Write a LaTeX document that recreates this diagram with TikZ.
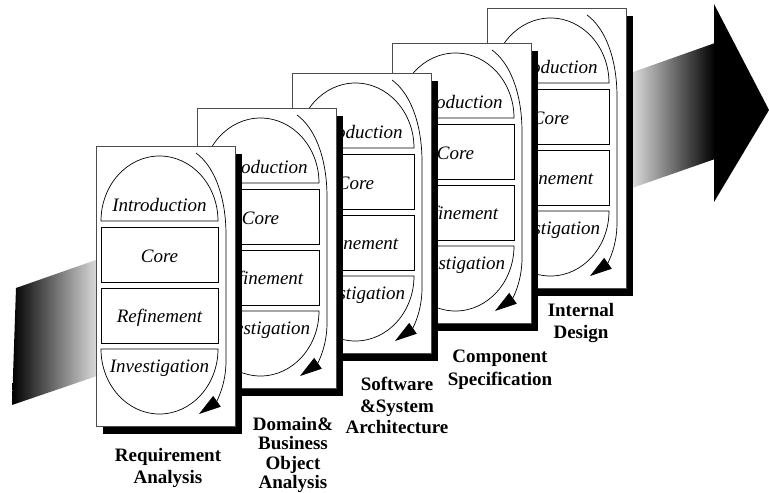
\documentclass[tikz,border=0pt]{standalone}
\usepackage{fontspec}
\setmainfont{Liberation Serif}
\usetikzlibrary{arrows.meta}

\tikzset{
  panel/.style={draw=black, line width=0.7pt, fill=white},
  cardface/.style={draw=black!70, line width=0.7pt, fill=white},
  cardshadow/.style={fill=black},
  flow/.style={draw=black, line width=0.7pt, -{Triangle[length=22pt,width=13pt]}},
  paneltext/.style={font=\fontsize{19}{22}\selectfont\itshape, anchor=base, inner sep=0pt},
  stagelabel/.style={font=\fontsize{19}{22}\selectfont\bfseries, anchor=north, align=center, inner sep=0pt},
}

% one process stage card: #1 id, #2 left, #3 top
\newcommand\stagecard[3]{%
\begin{scope}[shift={(#2,#3)}]
  \fill[cardshadow] (7,8) rectangle (146,288);
  \draw[cardface] (0,0) rectangle (139,280);
  \draw[panel] (5,75) arc[start angle=180, end angle=360, x radius=58.5, y radius=65] -- cycle;
  \draw[panel] (5,81) rectangle (122,136);
  \draw[panel] (5,142) rectangle (122,197);
  \draw[panel] (5,203) arc[start angle=180, end angle=0, x radius=58.5, y radius=65] -- cycle;
  \node[paneltext] (#1-intro) at (63.5,65) {Introduction};
  \node[paneltext] (#1-core) at (63.5,116) {Core};
  \node[paneltext] (#1-refine) at (63.5,176) {Refinement};
  \node[paneltext] (#1-invest) at (63.5,226) {Investigation};
  \draw[flow] (100,7) .. controls (118,20) and (130,50) .. (130,89)
     -- (130,215) .. controls (130,240) and (120,256) .. (103,268);
\end{scope}}

\begin{document}
\begin{tikzpicture}[x=1pt, y=-1pt]
  \useasboundingbox (0,0) rectangle (769,493);

  % shaded shaft of the big arrow behind the cards
  \shade[left color=black, right color=black!14] (16,288) -- (97,259.6) -- (97,376) -- (12,405) -- cycle;
  \shade[left color=black!14, right color=black] (632,72.4) -- (715,43) -- (715,159) -- (632,188) -- cycle;
  \fill[black] (714,4) -- (769,110) -- (714,202) -- cycle;

  % stage cards, back to front
  \stagecard{s5}{487}{8}
  \stagecard{s4}{392}{43}
  \stagecard{s3}{292}{73}
  \stagecard{s2}{197}{108}
  \stagecard{s1}{96}{146}

  % stage names
  \node[stagelabel] (l1) at (168,448) {Requirement\\Analysis};
  \node[stagelabel, font=\fontsize{19}{19.5}\selectfont\bfseries] (l2) at (293,417) {Domain\&\\Business\\Object\\Analysis};
  \node[stagelabel, font=\fontsize{19}{21.5}\selectfont\bfseries] (l3) at (397,377) {Software\\\&System\\Architecture};
  \node[stagelabel, font=\fontsize{19}{23}\selectfont\bfseries] (l4) at (500,350) {Component\\Specification};
  \node[stagelabel] (l5) at (581,303) {Internal\\Design};
\end{tikzpicture}
\end{document}
